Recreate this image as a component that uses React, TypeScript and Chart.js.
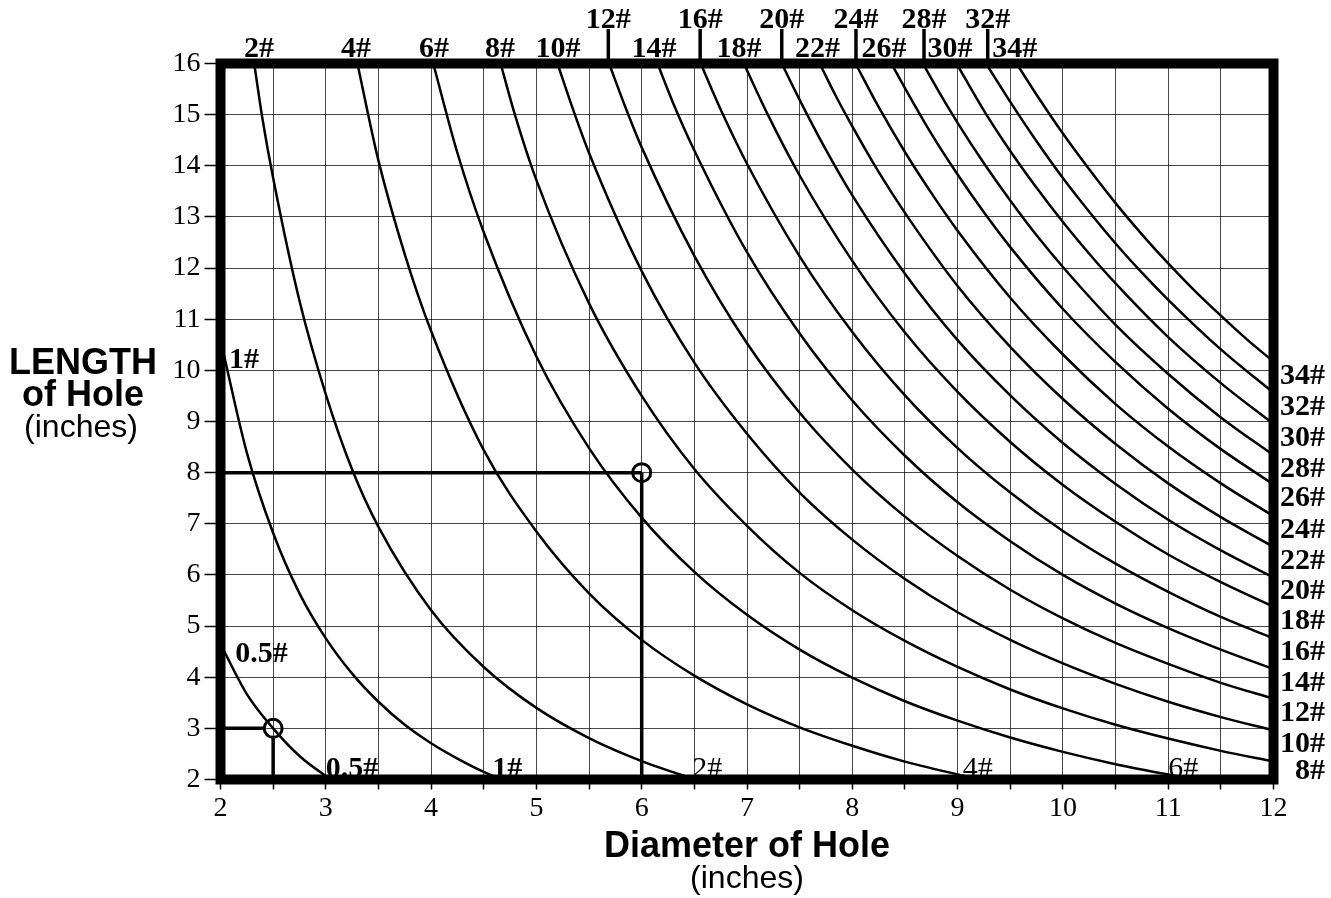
import React, { useEffect, useRef } from 'react';
import { Chart, registerables } from 'chart.js';

Chart.register(...registerables);

// ---- data: [diameter (in), length (in)] ----
const curveNames = ['0.5#', '1#', '2#', '4#', '6#', '8#', '10#', '12#', '14#', '16#', '18#', '20#', '22#', '24#', '26#', '28#', '30#', '32#', '34#'];

const c0_5 = [[2.0, 4.65], [2.25, 3.67], [2.5, 3.0], [2.75, 2.46], [3.0, 2.07], [3.1, 1.94]];
const c1 = [[2.0, 10.6], [2.25, 8.39], [2.5, 6.82], [2.75, 5.64], [3.0, 4.76], [3.25, 4.07], [3.5, 3.52], [3.75, 3.07], [4.0, 2.71], [4.25, 2.41], [4.5, 2.15], [4.75, 1.94]];
const c2 = [[2.32, 16.0], [2.4, 14.9], [2.5, 13.76], [2.75, 11.36], [3.0, 9.53], [3.25, 8.06], [3.5, 6.94], [4.0, 5.31], [4.5, 4.2], [5.0, 3.4], [5.5, 2.81], [6.0, 2.36], [6.5, 2.01], [6.7, 1.89]];
const c4 = [[3.3, 16.0], [3.5, 14.1], [3.75, 12.27], [4.0, 10.77], [4.5, 8.44], [5.0, 6.85], [5.5, 5.64], [6.0, 4.73], [6.5, 4.03], [7.0, 3.47], [7.5, 3.02], [8.0, 2.66], [8.5, 2.35], [9.0, 2.1], [9.5, 1.88]];
const c6 = [[4.02, 16.0], [4.25, 14.25], [4.5, 12.7], [5.0, 10.27], [5.5, 8.48], [6.0, 7.12], [6.5, 6.06], [7.0, 5.22], [7.5, 4.54], [8.0, 3.99], [8.5, 3.53], [9.0, 3.15], [9.5, 2.82], [10.0, 2.54], [10.5, 2.3], [11.0, 2.1], [11.5, 1.92]];
const c8 = [[4.66, 16.0], [4.8, 14.97], [5.0, 13.72], [5.5, 11.31], [6.0, 9.5], [6.5, 8.07], [7.0, 6.96], [7.5, 6.04], [8.0, 5.31], [8.5, 4.71], [9.0, 4.2], [9.5, 3.76], [10.0, 3.39], [10.5, 3.07], [11.0, 2.8], [11.5, 2.56], [12.0, 2.35]];
const c10 = [[5.2, 16.0], [5.35, 15.09], [5.5, 14.25], [6.0, 11.94], [6.5, 10.15], [7.0, 8.76], [7.5, 7.61], [8.0, 6.69], [8.5, 5.92], [9.0, 5.27], [9.5, 4.73], [10.0, 4.27], [10.5, 3.87], [11.0, 3.52], [11.5, 3.22], [12.0, 2.96]];
const c12 = [[5.69, 16.0], [5.85, 15.12], [6.0, 14.36], [6.5, 12.24], [7.0, 10.53], [7.5, 9.17], [8.0, 8.06], [8.5, 7.14], [9.0, 6.37], [9.5, 5.71], [10.0, 5.15], [10.5, 4.67], [11.0, 4.26], [11.5, 3.89], [12.0, 3.58]];
const c14 = [[6.15, 16.0], [6.3, 15.22], [6.5, 14.3], [7.0, 12.31], [7.5, 10.72], [8.0, 9.41], [8.5, 8.33], [9.0, 7.42], [9.5, 6.66], [10.0, 6.0], [10.5, 5.44], [11.0, 4.96], [11.5, 4.54], [12.0, 4.16]];
const c16 = [[6.56, 16.0], [6.75, 15.1], [7.0, 14.04], [7.5, 12.23], [8.0, 10.75], [8.5, 9.51], [9.0, 8.48], [9.5, 7.61], [10.0, 6.86], [10.5, 6.22], [11.0, 5.67], [11.5, 5.18], [12.0, 4.76]];
const c18 = [[6.97, 16.0], [7.2, 14.99], [7.5, 13.81], [8.0, 12.14], [8.5, 10.74], [9.0, 9.58], [9.5, 8.6], [10.0, 7.76], [10.5, 7.04], [11.0, 6.4], [11.5, 5.86], [12.0, 5.38]];
const c20 = [[7.33, 16.0], [7.5, 15.29], [7.75, 14.31], [8.0, 13.42], [8.5, 11.89], [9.0, 10.59], [9.5, 9.51], [10.0, 8.58], [10.5, 7.78], [11.0, 7.08], [11.5, 6.48], [12.0, 5.95]];
const c22 = [[7.69, 16.0], [7.85, 15.34], [8.0, 14.77], [8.25, 13.88], [8.5, 13.08], [9.0, 11.65], [9.5, 10.46], [10.0, 9.44], [10.5, 8.56], [11.0, 7.79], [11.5, 7.13], [12.0, 6.55]];
const c24 = [[8.03, 16.0], [8.25, 15.15], [8.5, 14.27], [8.75, 13.47], [9.0, 12.73], [9.5, 11.42], [10.0, 10.31], [10.5, 9.34], [11.0, 8.51], [11.5, 7.79], [12.0, 7.15]];
const c26 = [[8.37, 16.0], [8.5, 15.52], [8.75, 14.63], [9.0, 13.83], [9.25, 13.09], [9.5, 12.41], [10.0, 11.2], [10.5, 10.16], [11.0, 9.25], [11.5, 8.46], [12.0, 7.77]];
const c28 = [[8.67, 16.0], [8.83, 15.42], [9.0, 14.84], [9.25, 14.05], [9.5, 13.32], [9.75, 12.64], [10.0, 12.02], [10.5, 10.89], [11.0, 9.93], [11.5, 9.08], [12.0, 8.34]];
const c30 = [[8.99, 16.0], [9.25, 15.08], [9.5, 14.29], [9.75, 13.57], [10.0, 12.9], [10.25, 12.28], [10.5, 11.7], [11.0, 10.65], [11.5, 9.75], [12.0, 8.95]];
const c32 = [[9.27, 16.0], [9.5, 15.25], [9.75, 14.48], [10.0, 13.76], [10.25, 13.1], [10.5, 12.48], [10.75, 11.91], [11.0, 11.38], [11.5, 10.41], [12.0, 9.56]];
const c34 = [[9.56, 16.0], [9.75, 15.39], [10.0, 14.63], [10.25, 13.93], [10.5, 13.27], [10.75, 12.66], [11.0, 12.09], [11.25, 11.56], [11.5, 11.07], [11.75, 10.6], [12.0, 10.17]];

const curves = [c0_5, c1, c2, c4, c6, c8, c10, c12, c14, c16, c18, c20, c22, c24, c26, c28, c30, c32, c34];

// label texts around the chart
const topLabelNames = ['2#', '4#', '6#', '8#', '10#', '12#', '14#', '16#', '18#', '20#', '22#', '24#', '26#', '28#', '30#', '32#', '34#'];
const topLabelX = [2.366, 3.287, 4.028, 4.654, 5.205, 5.683, 6.117, 6.555, 6.924, 7.33, 7.67, 8.035, 8.301, 8.681, 8.928, 9.286, 9.542];
const topLabelRaised = [false, false, false, false, false, true, false, true, false, true, false, true, false, true, false, true, false];

const rightLabelNames = ['8#', '10#', '12#', '14#', '16#', '18#', '20#', '22#', '24#', '26#', '28#', '30#', '32#', '34#'];

const bottomLabelNames = ['0.5#', '1#', '2#', '4#', '6#'];
const bottomLabelX = [3.0, 4.58, 6.48, 9.05, 11.0];
const bottomLabelBold = [true, true, false, false, false];

const innerLabelNames = ['1#', '0.5#'];
const innerLabelX = [2.08, 2.14];
const innerLabelY = [10.04, 4.3];

// worked examples (diameter, length)
const examplePoints = [[2.5, 3], [6, 8]];

const xTitle = 'Diameter of Hole';
const yTitleLines = ['LENGTH', 'of Hole'];
const unitText = '(inches)';

const SERIF = '"Liberation Serif", "Times New Roman", Times, serif';
const SANS = '"Liberation Sans", Arial, Helvetica, sans-serif';
const LABEL_SIZE = 30;

const overlayPlugin = {
  id: 'overlay',
  afterDraw(chart: any) {
    const { ctx, chartArea: ca } = chart;
    const xs = chart.scales.x;
    const ys = chart.scales.y;
    const px = (v: number) => xs.getPixelForValue(v);
    const py = (v: number) => ys.getPixelForValue(v);
    ctx.save();
    ctx.strokeStyle = '#000';
    ctx.fillStyle = '#000';

    // example reference lines and circles
    const r = 9;
    const [s, b] = examplePoints;
    ctx.lineWidth = 3.5;
    ctx.beginPath();
    ctx.moveTo(px(2), py(s[1]));
    ctx.lineTo(px(s[0]) - r, py(s[1]));
    ctx.moveTo(px(s[0]), py(s[1]) + r);
    ctx.lineTo(px(s[0]), py(2));
    ctx.moveTo(px(2), py(b[1]));
    ctx.lineTo(px(b[0]), py(b[1]));
    ctx.moveTo(px(b[0]), py(b[1]));
    ctx.lineTo(px(b[0]), py(2));
    ctx.stroke();
    ctx.lineWidth = 3;
    examplePoints.forEach(([ex, ey]) => {
      ctx.beginPath();
      ctx.arc(px(ex), py(ey), r, 0, Math.PI * 2);
      ctx.stroke();
    });

    // heavy frame
    ctx.lineWidth = 10;
    ctx.strokeRect(ca.left, ca.top, ca.right - ca.left, ca.bottom - ca.top);

    // top labels and leaders
    ctx.textAlign = 'center';
    ctx.textBaseline = 'alphabetic';
    ctx.font = `bold ${LABEL_SIZE}px ${SERIF}`;
    topLabelNames.forEach((name, i) => {
      const lx = px(topLabelX[i]);
      if (topLabelRaised[i]) {
        ctx.fillText(name, lx, 28);
        ctx.lineWidth = 3.5;
        ctx.beginPath();
        ctx.moveTo(lx, 29);
        ctx.lineTo(lx, ca.top);
        ctx.stroke();
      } else {
        ctx.fillText(name, lx, 57);
      }
    });

    // right labels at curve ends
    ctx.textAlign = 'right';
    rightLabelNames.forEach((name) => {
      const idx = curveNames.indexOf(name);
      const pts = curves[idx];
      const endY = pts[pts.length - 1][1];
      const base = Math.min(py(endY) + 22, 779);
      ctx.fillText(name, 1325, base);
    });

    // bottom labels
    ctx.textAlign = 'left';
    bottomLabelNames.forEach((name, i) => {
      ctx.font = `${bottomLabelBold[i] ? 'bold ' : ''}${LABEL_SIZE}px ${SERIF}`;
      ctx.fillText(name, px(bottomLabelX[i]), ca.bottom - 3);
    });

    // inner labels
    ctx.font = `bold ${LABEL_SIZE}px ${SERIF}`;
    innerLabelNames.forEach((name, i) => {
      ctx.fillText(name, px(innerLabelX[i]), py(innerLabelY[i]));
    });

    // y axis title
    ctx.textAlign = 'center';
    ctx.font = `bold 36px ${SANS}`;
    ctx.fillText(yTitleLines[0], 83, 374);
    ctx.fillText(yTitleLines[1], 83, 406);
    ctx.font = `32px ${SANS}`;
    ctx.fillText(unitText, 81, 437);

    // x axis title
    const cx = (ca.left + ca.right) / 2;
    ctx.font = `bold 36px ${SANS}`;
    ctx.fillText(xTitle, cx, 857);
    ctx.font = `32px ${SANS}`;
    ctx.fillText(unitText, cx, 888);

    ctx.restore();
  },
};

export default function App() {
  const canvasRef = useRef<HTMLCanvasElement | null>(null);

  useEffect(() => {
    document.body.style.margin = '0';
    const canvas = canvasRef.current;
    if (!canvas) return;
    const datasets = curves.map((pts, i) => ({
      label: curveNames[i],
      data: pts.map(([x, y]) => ({ x, y })),
      borderColor: '#000',
      borderWidth: 2.5,
      pointRadius: 0,
      fill: false,
      cubicInterpolationMode: 'monotone' as const,
    }));
    const chart = new Chart(canvas, {
      type: 'line',
      data: { datasets },
      options: {
        responsive: false,
        animation: false,
        events: [],
        layout: { padding: { left: 0, right: 57.5, top: 63.5, bottom: 0 } },
        plugins: { legend: { display: false }, tooltip: { enabled: false } },
        scales: {
          x: {
            type: 'linear',
            min: 2,
            max: 12,
            afterFit: (sc: any) => {
              sc.height = 118.5;
            },
            ticks: {
              stepSize: 0.5,
              autoSkip: false,
              maxRotation: 0,
              minRotation: 0,
              padding: 2,
              color: '#000',
              font: { family: SERIF, size: 28 },
              callback: (v: any) => (Number.isInteger(Number(v)) ? String(v) : ''),
            },
            grid: { color: 'rgba(0,0,0,0.72)', lineWidth: 1, tickLength: 10, tickColor: '#000', tickWidth: 1.5 },
            border: { display: false },
          },
          y: {
            type: 'linear',
            min: 2,
            max: 16,
            afterFit: (sc: any) => {
              sc.width = 220.5;
            },
            ticks: {
              stepSize: 1,
              autoSkip: false,
              padding: 4,
              color: '#000',
              font: { family: SERIF, size: 28 },
            },
            grid: { color: 'rgba(0,0,0,0.72)', lineWidth: 1, tickLength: 16, tickColor: '#000', tickWidth: 1.5 },
            border: { display: false },
          },
        },
      },
      plugins: [overlayPlugin],
    } as any);
    return () => chart.destroy();
  }, []);

  return (
    <div style={{ width: 1331, height: 898, background: '#fff' }}>
      <canvas ref={canvasRef} width={1331} height={898} style={{ display: 'block' }} />
    </div>
  );
}
